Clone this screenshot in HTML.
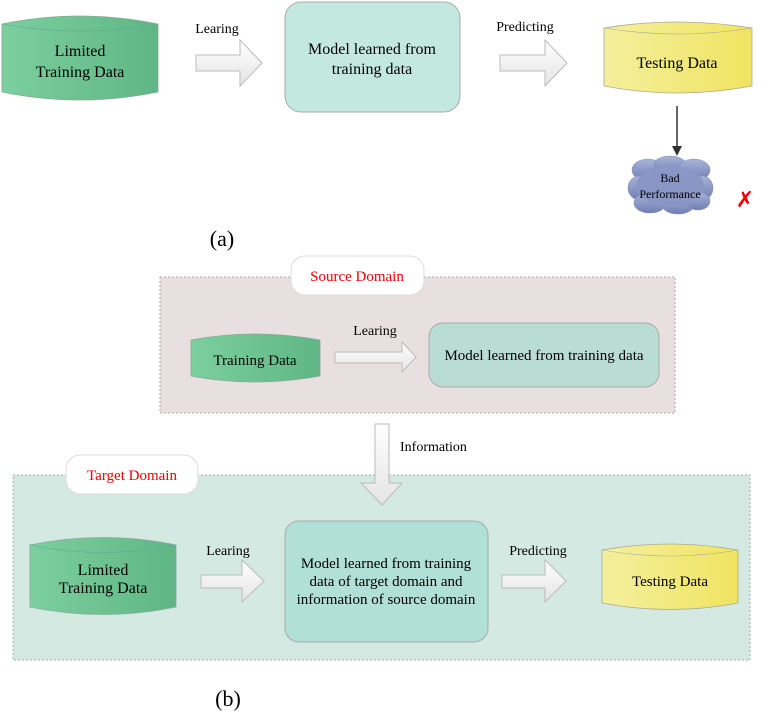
<!DOCTYPE html><html><head><style>body{margin:0;background:#fff}svg{display:block}text{font-family:"Liberation Serif",serif}</style></head><body>
<svg width="767" height="715" viewBox="0 0 767 715">
<defs>
<linearGradient id="g" x1="0" x2="1"><stop offset="0" stop-color="#7ccf9e"/><stop offset="1" stop-color="#5fb684"/></linearGradient>
<linearGradient id="y" x1="0" x2="1"><stop offset="0" stop-color="#f4ef9e"/><stop offset="1" stop-color="#f0e460"/></linearGradient>
<linearGradient id="ar" x1="0" y1="0" x2="0" y2="1"><stop offset="0" stop-color="#fff"/><stop offset="1" stop-color="#e4e4e4"/></linearGradient>
<linearGradient id="cl" x1="0" y1="0" x2="0" y2="1"><stop offset="0" stop-color="#a7b3d8"/><stop offset="1" stop-color="#6f7fb3"/></linearGradient>
</defs>
<!-- (a) -->
<path d="M2,24 Q80,8 158,24 L158,92 Q80,108 2,92 Z" fill="url(#g)" stroke="#8a9" stroke-width="0.8"/>
<path d="M2,24 Q80,38 158,24" fill="none" stroke="#5a9" stroke-width="0.6"/>
<text x="80" y="56" font-size="16" text-anchor="middle">Limited</text>
<text x="80" y="77" font-size="16" text-anchor="middle">Training Data</text>
<text x="217" y="33" font-size="14" text-anchor="middle">Learing</text>
<path d="M196,55 L240,55 L240,40 L262,63 L240,86 L240,71 L196,71 Z" fill="url(#ar)" stroke="#bbb"/>
<rect x="285" y="2" width="175" height="110" rx="16" fill="#c2e8df" stroke="#aaa"/>
<text x="372" y="54" font-size="16" text-anchor="middle">Model learned from</text>
<text x="372" y="74" font-size="16" text-anchor="middle">training data</text>
<text x="525" y="31" font-size="14" text-anchor="middle">Predicting</text>
<path d="M500,55 L545,55 L545,40 L567,63 L545,86 L545,71 L500,71 Z" fill="url(#ar)" stroke="#bbb"/>
<path d="M604,28 Q678,16 752,28 L752,86 Q678,100 604,86 Z" fill="url(#y)" stroke="#aa9" stroke-width="0.8"/>
<path d="M604,28 Q678,40 752,28" fill="none" stroke="#aa9" stroke-width="0.6"/>
<text x="677" y="68" font-size="16" text-anchor="middle">Testing Data</text>
<line x1="677" y1="106" x2="677" y2="150" stroke="#333" stroke-width="1.5"/>
<path d="M672,146 L677,156 L682,146 Z" fill="#333"/>
<g fill="url(#cl)" stroke="#8890b0" stroke-width="0.6">
<ellipse cx="648" cy="170" rx="16" ry="11"/><ellipse cx="670" cy="165" rx="16" ry="9"/><ellipse cx="694" cy="170" rx="16" ry="11"/>
<ellipse cx="640" cy="188" rx="12" ry="12"/><ellipse cx="702" cy="188" rx="11" ry="12"/>
<ellipse cx="650" cy="203" rx="16" ry="10"/><ellipse cx="678" cy="205" rx="16" ry="9"/><ellipse cx="698" cy="201" rx="12" ry="9"/>
</g>
<ellipse cx="670" cy="186" rx="34" ry="20" fill="#8a96c6"/>
<text x="670" y="182" font-size="12" text-anchor="middle">Bad</text>
<text x="670" y="198" font-size="12" text-anchor="middle">Performance</text>
<text x="745" y="207" font-size="22" fill="#e00" text-anchor="middle" font-family="Liberation Sans">✗</text>
<text x="222" y="246" font-size="22" text-anchor="middle">(a)</text>
<!-- (b) source -->
<rect x="160" y="277" width="515" height="136" fill="#e8e0e0" stroke="#aaa" stroke-dasharray="2,2"/>
<rect x="291" y="256" width="133" height="39" rx="14" fill="#fff" stroke="#ddd"/>
<text x="357" y="281" font-size="15" fill="#e00" text-anchor="middle">Source Domain</text>
<path d="M191,340 Q255,328 320,340 L320,376 Q255,388 191,376 Z" fill="url(#g)" stroke="#8a9" stroke-width="0.8"/>
<text x="255" y="365" font-size="15" text-anchor="middle">Training Data</text>
<text x="375" y="335" font-size="14" text-anchor="middle">Learing</text>
<path d="M335,352 L402,352 L402,342 L416,357 L402,372 L402,363 L335,363 Z" fill="url(#ar)" stroke="#bbb"/>
<rect x="429" y="323" width="230" height="64" rx="14" fill="#b9ddd5" stroke="#aaa"/>
<text x="544" y="360" font-size="15" text-anchor="middle">Model learned from training data</text>
<!-- target -->
<rect x="13" y="475" width="737" height="185" fill="#d3e9e1" stroke="#aaa" stroke-dasharray="2,2"/>
<path d="M375,424 L389,424 L389,483 L402,483 L382,505 L361,483 L375,483 Z" fill="url(#ar)" stroke="#bbb"/>
<text x="400" y="451" font-size="14">Information</text>
<rect x="66" y="455" width="132" height="39" rx="14" fill="#fff" stroke="#ddd"/>
<text x="132" y="480" font-size="15" fill="#e00" text-anchor="middle">Target  Domain</text>
<path d="M30,545 Q103,530 176,545 L176,607 Q103,622 30,607 Z" fill="url(#g)" stroke="#8a9" stroke-width="0.8"/>
<path d="M30,545 Q103,560 176,545" fill="none" stroke="#5a9" stroke-width="0.6"/>
<text x="103" y="575" font-size="16" text-anchor="middle">Limited</text>
<text x="103" y="593" font-size="16" text-anchor="middle">Training Data</text>
<text x="228" y="555" font-size="14" text-anchor="middle">Learing</text>
<path d="M201,575 L242,575 L242,560 L264,581 L242,602 L242,588 L201,588 Z" fill="url(#ar)" stroke="#bbb"/>
<rect x="285" y="521" width="203" height="121" rx="14" fill="#b0e0d6" stroke="#aaa"/>
<text x="386" y="568" font-size="15" text-anchor="middle">Model learned from training</text>
<text x="386" y="586" font-size="15" text-anchor="middle">data of target domain and</text>
<text x="386" y="604" font-size="15" text-anchor="middle">information of source domain</text>
<text x="538" y="555" font-size="14" text-anchor="middle">Predicting</text>
<path d="M502,575 L545,575 L545,560 L566,581 L545,602 L545,588 L502,588 Z" fill="url(#ar)" stroke="#bbb"/>
<path d="M602,550 Q670,538 738,550 L738,603 Q670,616 602,603 Z" fill="url(#y)" stroke="#aa9" stroke-width="0.8"/>
<path d="M602,550 Q670,562 738,550" fill="none" stroke="#aa9" stroke-width="0.6"/>
<text x="670" y="586" font-size="15" text-anchor="middle">Testing Data</text>
<text x="228" y="706" font-size="22" text-anchor="middle">(b)</text>
</svg></body></html>
